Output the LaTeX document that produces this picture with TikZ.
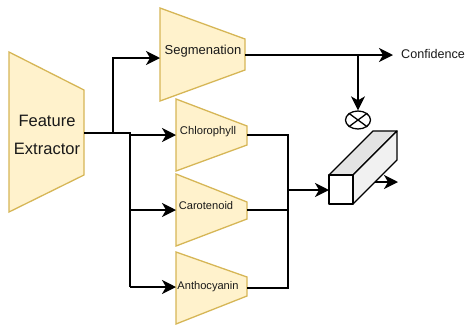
\documentclass[tikz,border=0pt]{standalone}
\usepackage{fontspec}
\setmainfont{Liberation Sans}
\usetikzlibrary{arrows.meta,shapes.geometric}
\definecolor{trapfill}{HTML}{FFF2CC}
\definecolor{trapline}{HTML}{D6B656}
\definecolor{topface}{HTML}{E3E3E3}
\definecolor{sideface}{HTML}{F1F1F1}
\tikzset{
  trap/.style={draw=trapline, fill=trapfill, line width=1.3pt, line join=miter},
  conn/.style={line width=1.4pt, black},
  arr/.style={conn, -{Stealth[length=14pt,width=14pt,inset=4pt]}},
  lbl/.style={inner sep=0pt, text=black!90},
  cube/.style={draw=black, line width=1.3pt, line join=round},
}
\begin{document}
\begin{tikzpicture}[x=1pt,y=-1pt]
\useasboundingbox (0,0) rectangle (466,325);
% trapezoids
\draw[trap] (9,52) -- (84,90) -- (84,175) -- (9,212) -- cycle;
\draw[trap] (160,8) -- (245,39) -- (245,70) -- (160,101) -- cycle;
\draw[trap] (176,99) -- (247,126) -- (247,145) -- (176,171) -- cycle;
\draw[trap] (176,174) -- (247,202) -- (247,219) -- (176,246) -- cycle;
\draw[trap] (176,252) -- (247,277) -- (247,296) -- (176,324) -- cycle;
% labels
\node[lbl, align=center, font=\fontsize{16.5}{28}\selectfont] (fe) at (47,135) {Feature\\Extractor};
\node[lbl, font=\fontsize{13}{15}\selectfont] (seg) at (203,51) {Segmenation};
\node[lbl, font=\fontsize{11.2}{13}\selectfont] (chl) at (208,132) {Chlorophyll};
\node[lbl, font=\fontsize{11.1}{13}\selectfont] (car) at (206,206) {Carotenoid};
\node[lbl, font=\fontsize{11.1}{13}\selectfont] (ant) at (208,287) {Anthocyanin};
% connection points
\coordinate (feo) at (84,133);
\coordinate (segi) at (160,58);
\coordinate (sego) at (245,55);
\coordinate (chli) at (176,135);
\coordinate (chlo) at (247,135);
\coordinate (cari) at (176,210);
\coordinate (caro) at (247,210);
\coordinate (anti) at (176,287);
\coordinate (anto) at (247,288);
\coordinate (boxi) at (329,190);
\coordinate (boxo) at (375,182);
\coordinate (outtip) at (398,182);
\coordinate (split) at (358,55);
% confidence and otimes
\node[lbl, anchor=west, inner xsep=8pt, font=\fontsize{12.6}{15}\selectfont] (conf) at (393,54) {Confidence};
\node[draw, ellipse, line width=1.3pt, minimum width=25pt, minimum height=18pt, inner sep=0pt] (ot) at (358,120) {};
\draw[line width=1.3pt] (ot.north east) -- (ot.south west) (ot.north west) -- (ot.south east);
% connectors
\draw[arr] (feo) -- (113,133) |- (segi);
\draw[conn] (feo) -- (130,133) -- (130,287);
\draw[arr] (130,135) -- (chli);
\draw[arr] (130,210) -- (cari);
\draw[arr] (130,287) -- (anti);
\draw[arr] (sego) -- (393,55);
\draw[arr] (split) -- (ot.north);
\draw[conn] (chlo) -| (288,288) -- (anto);
\draw[conn] (caro) -- (288,210);
\draw[arr] (288,190) -- (boxi);
% cube
\draw[cube, fill=topface] (329,175) -- (373,131) -- (397,131) -- (353,175) -- cycle;
\draw[cube, fill=sideface] (353,175) -- (397,131) -- (397,160) -- (353,204) -- cycle;
\draw[cube, fill=white] (329,175) rectangle (353,204);
\draw[arr] (boxo) -- (outtip);
\end{tikzpicture}
\end{document}
